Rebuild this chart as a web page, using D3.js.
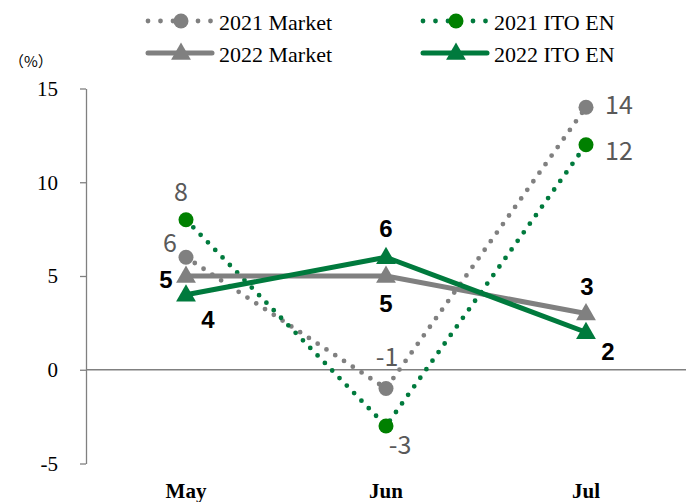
<!DOCTYPE html>
<html><head><meta charset="utf-8">
<script src="https://cdn.jsdelivr.net/npm/d3@7"></script>
<style>body{margin:0;background:#fff}svg{display:block}</style>
</head><body><svg id="c" width="686" height="502"></svg>
<script>
const categories = ["May", "Jun", "Jul"];
const market2021 = [6, -1, 14];
const itoen2021 = [8, -3, 12];
const market2022 = [5, 5, 3];
const itoen2022 = [4, 6, 2];
const yTicks = [-5, 0, 5, 10, 15];
const seriesNames = ["2021 Market", "2021 ITO EN", "2022 Market", "2022 ITO EN"];

const svg = d3.select("#c");
const x = d3.scalePoint().domain(categories).range([186, 586]);
const y = d3.scaleLinear().domain([-5, 15]).range([463.5, 88.5]);

const GRAY = "#808080", GREEN_M = "#008000", GREEN_L = "#007a3d";
const serif = "Liberation Serif, Times New Roman, serif";
const gothic = "Noto Sans CJK JP, Noto Sans, sans-serif";
const arial = "Liberation Sans, Arial, sans-serif";

// Y axis
const yAxis = d3.axisLeft(y).tickValues(yTicks).tickSize(6).tickSizeOuter(0).tickPadding(22).tickFormat(d => String(d));
const gy = svg.append("g").attr("transform", "translate(86,0)").call(yAxis).attr("font-family", serif);
gy.select(".domain").attr("stroke", GRAY).attr("stroke-width", 1.3);
gy.selectAll(".tick line").attr("stroke", GRAY).attr("stroke-width", 1.3);
gy.selectAll(".tick text").style("font-family", serif).attr("font-size", 21).attr("fill", "#000").attr("dy", "0.33em");

// zero line
svg.append("line").attr("x1", 86).attr("x2", 686).attr("y1", y(0)).attr("y2", y(0))
  .attr("stroke", GRAY).attr("stroke-width", 1.3);

// x labels
svg.append("g").selectAll("text").data(categories).join("text")
  .attr("x", d => x(d)).attr("y", 498).attr("text-anchor", "middle")
  .style("font-family", serif).attr("font-weight", "bold").attr("font-size", 21).text(d => d);

svg.append("text").attr("x", 9).attr("y", 67).style("font-family", gothic).attr("font-size", 15).text("（%）");

const series = [
  {name: seriesNames[0], values: market2021, line: GRAY, mark: GRAY, dotted: true, shape: "circle",
   lab: {fill: "#595959", font: gothic, weight: "normal", size: 25, off: [[-16, -16], [1, -34], [19, -4]], anchor: ["middle","middle","start"]}},
  {name: seriesNames[1], values: itoen2021, line: GREEN_L, mark: GREEN_M, dotted: true, shape: "circle",
   lab: {fill: "#595959", font: gothic, weight: "normal", size: 25, off: [[-5, -30], [14, 17], [19, 4]], anchor: ["middle","middle","start"]}},
  {name: seriesNames[2], values: market2022, line: GRAY, mark: GRAY, dotted: false, shape: "triangle",
   lab: {fill: "#000", font: arial, weight: "bold", size: 24, off: [[-20, 3], [0, 27], [1, -27]], anchor: ["middle","middle","middle"]}},
  {name: seriesNames[3], values: itoen2022, line: GREEN_L, mark: GREEN_L, dotted: false, shape: "triangle",
   lab: {fill: "#000", font: arial, weight: "bold", size: 24, off: [[22, 25], [0, -29], [22, 19]], anchor: ["middle","middle","middle"]}}
];

const lineGen = d3.line().x((d, i) => x(categories[i])).y(d => y(d));
const triangle = d3.symbol().type(d3.symbolTriangle).size(170);

function styleLine(sel, s, legend) {
  sel.attr("fill", "none").attr("stroke", s.line).attr("stroke-linecap", "round").attr("stroke-linejoin", "round");
  if (s.dotted) sel.attr("stroke-width", 4.8).attr("stroke-dasharray", legend ? "0 12.5" : "0 10.5");
  else sel.attr("stroke-width", 5);
}
function drawMarker(g, s, cx, cy) {
  if (s.shape === "circle") g.append("circle").attr("cx", cx).attr("cy", cy).attr("r", 7.5).attr("fill", s.mark);
  else g.append("path").attr("d", triangle()).attr("transform", `translate(${cx},${cy + 1})`).attr("fill", s.mark);
}

series.forEach(s => {
  const g = svg.append("g");
  g.append("path").datum(s.values).attr("d", lineGen).call(styleLine, s, false);
  s.values.forEach((v, i) => drawMarker(g, s, x(categories[i]), y(v)));
});
series.forEach(s => {
  svg.append("g").selectAll("text").data(s.values).join("text")
    .attr("x", (d, i) => x(categories[i]) + s.lab.off[i][0])
    .attr("y", (d, i) => y(d) + s.lab.off[i][1])
    .attr("text-anchor", (d, i) => s.lab.anchor[i])
    .attr("dominant-baseline", "central")
    .style("font-family", s.lab.font).attr("font-weight", s.lab.weight)
    .attr("font-size", s.lab.size).attr("fill", s.lab.fill).text(d => d);
});

// legend
const legendPos = [[148, 21], [423, 21], [148, 53], [423, 53]];
series.forEach((s, i) => {
  const [lx, ly] = legendPos[i];
  const g = svg.append("g");
  g.append("path").attr("d", `M${lx},${ly}L${lx + 64},${ly}`).call(styleLine, s, true);
  drawMarker(g, s, lx + 33, ly);
  g.append("text").attr("x", lx + 71).attr("y", ly + 1).attr("dominant-baseline", "central")
    .style("font-family", serif).attr("font-size", 22).attr("fill", "#000").text(s.name);
});
</script></body></html>
